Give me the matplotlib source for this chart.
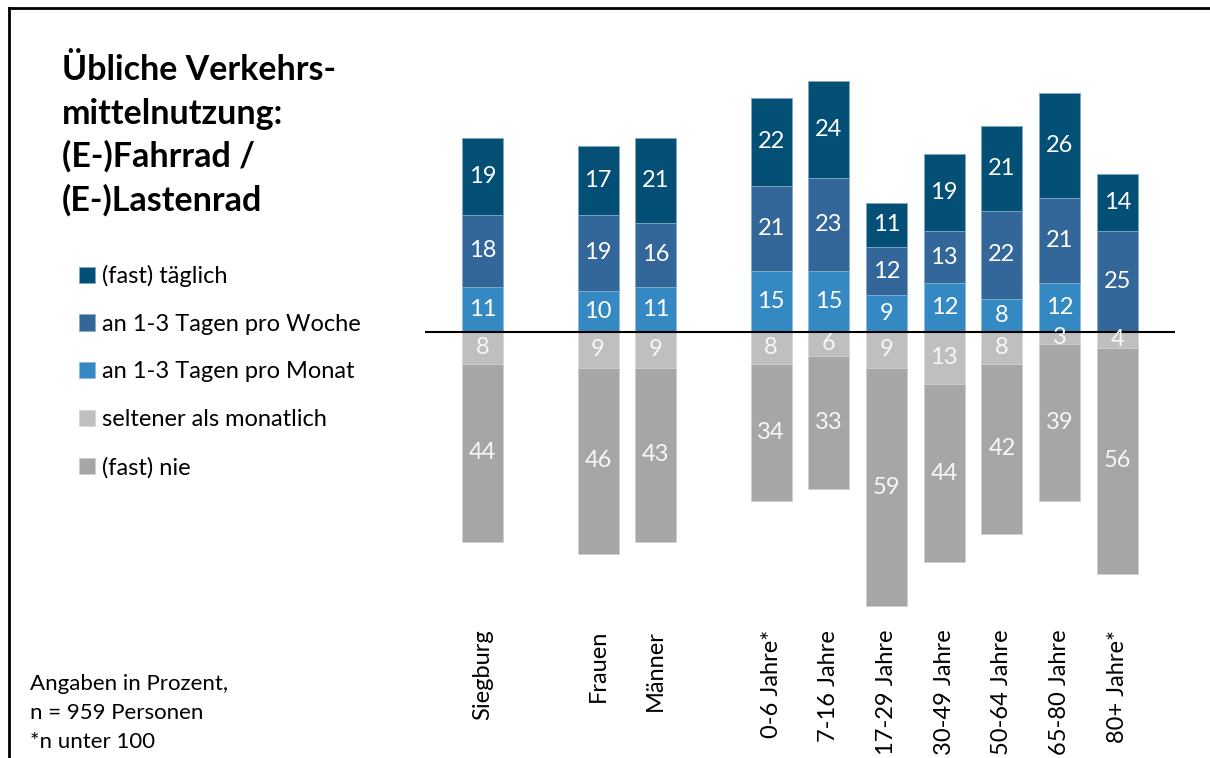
import matplotlib
matplotlib.use("Agg")
import matplotlib.pyplot as plt
from matplotlib.lines import Line2D
import numpy as np

plt.rcParams["font.family"] = ["Lato", "DejaVu Sans"]

categories = ["Siegburg", "Frauen", "Männer", "0-6 Jahre*", "7-16 Jahre", "17-29 Jahre",
              "30-49 Jahre", "50-64 Jahre", "65-80 Jahre", "80+ Jahre*"]
group_sizes = [1, 2, 7]

taeglich = [19, 17, 21, 22, 24, 11, 19, 21, 26, 14]
woche = [18, 19, 16, 21, 23, 12, 13, 22, 21, 25]
monat = [11, 10, 11, 15, 15, 9, 12, 8, 12, 0]
seltener = [8, 9, 9, 8, 6, 9, 13, 8, 3, 4]
nie = [44, 46, 43, 34, 33, 59, 44, 42, 39, 56]

series_labels = ["(fast) täglich", "an 1-3 Tagen pro Woche", "an 1-3 Tagen pro Monat",
                 "seltener als monatlich", "(fast) nie"]
colors = ["#034f75", "#336699", "#3589c3", "#bfbfbf", "#a6a6a6"]
edges = ["#7fa7c4", "#86a9cb", "#8dbde0", "#d9d9d9", "#cfcfcf"]

W, H = 1210, 758
fig = plt.figure(figsize=(W / 100, H / 100), dpi=100)
ax = fig.add_axes([425 / W, 1 - 620 / H, 750 / W, 600 / H])

# x positions: one empty slot between groups
pos = []
start = 0
for n in group_sizes:
    pos.extend(range(start, start + n))
    start += n + 1
x = np.array(pos, dtype=float)

up = [np.array(taeglich), np.array(woche), np.array(monat)]
down = [np.array(seltener), np.array(nie)]
bw = 0.71

containers = {}
bottom = np.zeros(len(x))
for vals, lab, col, ec in zip(up[::-1], series_labels[:3][::-1], colors[:3][::-1], edges[:3][::-1]):
    c = ax.bar(x, vals, bw, bottom=bottom, color=col, edgecolor=ec, linewidth=0.6, label=lab)
    containers[lab] = c
    ax.bar_label(c, labels=[str(v) if v > 0 else "" for v in vals], label_type="center",
                 color="white", fontsize=17)
    bottom = bottom + vals

bottom = np.zeros(len(x))
for vals, lab, col, ec in zip(down, series_labels[3:], colors[3:], edges[3:]):
    c = ax.bar(x, -vals, bw, bottom=bottom, color=col, edgecolor=ec, linewidth=0.6, label=lab)
    containers[lab] = c
    ax.bar_label(c, labels=[str(v) for v in vals], label_type="center",
                 color="#f7f7f7", fontsize=17)
    bottom = bottom - vals

ax.axhline(0, color="black", linewidth=1.5)
ax.set_xlim(-1, 12)
ax.set_ylim(-71.4, 77.2)
ax.set_yticks([])
ax.set_xticks(x)
ax.set_xticklabels(categories, rotation=90, fontsize=17)
ax.tick_params(axis="x", length=0, pad=7)
for s in ax.spines.values():
    s.set_visible(False)

# title
title_lines = ["Übliche Verkehrs-", "mittelnutzung:", "(E-)Fahrrad /", "(E-)Lastenrad"]
for i, line in enumerate(title_lines):
    fig.text(62 / W, 1 - (80 + i * 43.5) / H, line, fontsize=24.5, fontweight="bold",
             va="baseline", ha="left")

handles = [containers[l] for l in series_labels]
fig.legend(handles, series_labels, loc="upper left", bbox_to_anchor=(79 / W, 1 - 265 / H),
           frameon=False, fontsize=17, handlelength=0.68, handleheight=0.68,
           handletextpad=0.3, labelspacing=1.13, borderpad=0, borderaxespad=0)

notes = ["Angaben in Prozent,", "n = 959 Personen", "*n unter 100"]
for i, line in enumerate(notes):
    fig.text(30 / W, 1 - (690 + i * 29) / H, line, fontsize=16, va="baseline", ha="left")

# frame lines (top and left)
fig.add_artist(Line2D([9 / W, 1], [1 - 8 / H, 1 - 8 / H], color="black", linewidth=2))
fig.add_artist(Line2D([9 / W, 9 / W], [0, 1 - 8 / H], color="black", linewidth=2))

fig.savefig("out.png", dpi=100)
